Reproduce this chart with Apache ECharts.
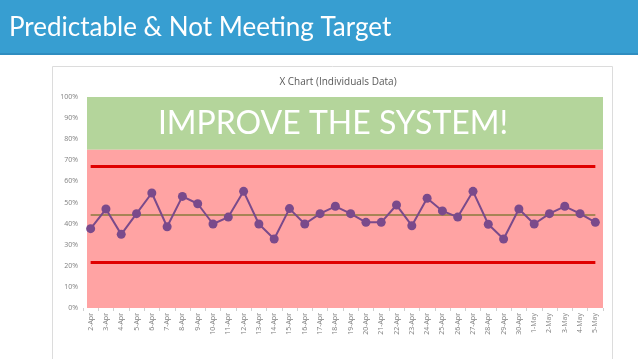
<!DOCTYPE html>
<html>
<head>
<meta charset="utf-8">
<script src="https://cdn.jsdelivr.net/npm/echarts@6/dist/echarts.min.js"></script>
<style>html,body{margin:0;padding:0;background:#fff;}#c{width:638px;height:359px;}</style>
</head>
<body>
<div id="c"></div>
<script>
var categories = ['2-Apr','3-Apr','4-Apr','5-Apr','6-Apr','7-Apr','8-Apr','9-Apr','10-Apr','11-Apr','12-Apr','13-Apr','14-Apr','15-Apr','16-Apr','17-Apr','18-Apr','19-Apr','20-Apr','21-Apr','22-Apr','23-Apr','24-Apr','25-Apr','26-Apr','27-Apr','28-Apr','29-Apr','30-Apr','1-May','2-May','3-May','4-May','5-May'];
var values = [37.6,46.9,34.9,44.7,54.5,38.5,52.9,49.4,39.8,43.1,55.3,39.8,32.7,47.1,39.8,44.7,48.2,44.7,40.6,40.6,48.8,39.0,52.0,46.0,43.1,55.3,39.7,32.7,46.9,39.8,44.7,48.2,44.7,40.6];
var meanValue = 44.4;
var uclValue = 67.0;
var lclValue = 21.8;
var zoneTop = 100;
var zoneSplit = 75;
var yTicks = [0,10,20,30,40,50,60,70,80,90,100];

var chart = echarts.init(document.getElementById('c'), null, {renderer:'canvas'});
chart.setOption({
  animation:false,
  backgroundColor:'#ffffff',
  graphic:[
    {type:'rect', shape:{x:0,y:0,width:638,height:54}, style:{fill:'#379ED1'}, z:0},
    {type:'rect', shape:{x:0,y:53,width:638,height:2}, style:{fill:'#2F8DC0'}, z:0},
    {type:'rect', shape:{x:52.5,y:66.5,width:560,height:300}, style:{fill:'#ffffff', stroke:'#dcdcdc', lineWidth:1}, z:0}
  ],
  title:[
    {text:'Predictable & Not Meeting Target', left:4, top:10,
     textStyle:{color:'#ffffff', fontSize:26, fontWeight:'normal', fontFamily:'Lato'}},
    {text:'X Chart (Individuals Data)', left:333, top:72, textAlign:'center',
     textStyle:{color:'#595959', fontSize:10, fontWeight:'normal', fontFamily:'Open Sans'}}
  ],
  grid:[
    {left:87, top:97, width:516, height:211},
    {left:83, top:97, width:520, height:211}
  ],
  xAxis:[
    {type:'value', gridIndex:0, min:0, max:1, show:false},
    {type:'category', gridIndex:1, data:categories, boundaryGap:true,
     axisLine:{show:false},
     axisTick:{show:true, length:3, lineStyle:{color:'#d0d0d0'}},
     axisLabel:{rotate:90, fontSize:7, color:'#808080', margin:5, interval:0, fontFamily:'Open Sans'}}
  ],
  yAxis:[
    {type:'value', gridIndex:0, min:0, max:100, interval:10,
     axisLine:{show:false}, axisTick:{show:false}, splitLine:{show:false},
     axisLabel:{formatter:'{value}%', fontSize:7, color:'#808080', margin:9, fontFamily:'Open Sans'}},
    {type:'value', gridIndex:1, min:0, max:100, interval:10, show:false, splitLine:{show:false}}
  ],
  series:[
    {type:'line', xAxisIndex:0, yAxisIndex:0, data:[], z:1,
     markArea:{silent:true, data:[
       [{yAxis:zoneSplit, itemStyle:{color:'#B4D59B'},
         label:{show:true, position:'inside', offset:[-12,0], formatter:'IMPROVE THE SYSTEM!', color:'#ffffff', fontSize:32, fontFamily:'Lato'}},
        {yAxis:zoneTop}],
       [{yAxis:0, itemStyle:{color:'#FFA3A3'}, label:{show:false}}, {yAxis:zoneSplit}]
     ]}},
    {type:'line', xAxisIndex:1, yAxisIndex:1, data:values, z:5,
     symbol:'circle', symbolSize:9,
     lineStyle:{color:'#7A4A8B', width:2},
     itemStyle:{color:'#7A4A8B'},
     markLine:{silent:true, symbol:'none', label:{show:false},
       data:[
         [{xAxis:categories[0], yAxis:uclValue, lineStyle:{color:'#E00000', width:3, type:'solid'}}, {xAxis:categories[categories.length-1], yAxis:uclValue}],
         [{xAxis:categories[0], yAxis:lclValue, lineStyle:{color:'#E00000', width:3, type:'solid'}}, {xAxis:categories[categories.length-1], yAxis:lclValue}],
         [{xAxis:categories[0], yAxis:meanValue, lineStyle:{color:'#8A7A3C', width:1.5, type:'solid'}}, {xAxis:categories[categories.length-1], yAxis:meanValue}]
       ]}}
  ]
});
</script>
</body>
</html>
